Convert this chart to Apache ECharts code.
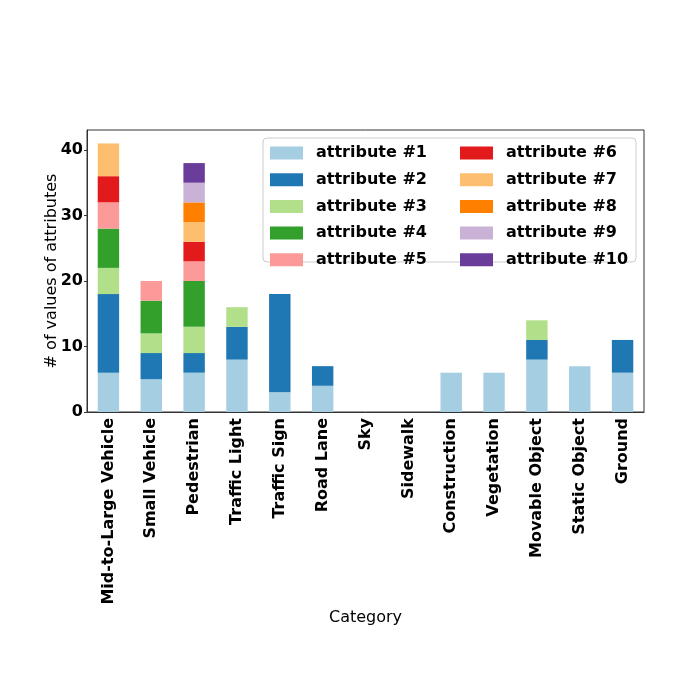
<!DOCTYPE html>
<html>
<head>
<meta charset="utf-8">
<script src="https://cdn.jsdelivr.net/npm/echarts@6/dist/echarts.min.js"></script>
<style>html,body{margin:0;padding:0;background:#fff}#main{width:700px;height:700px}</style>
</head>
<body>
<div id="main"></div>
<script>
var categories = ['Mid-to-Large Vehicle', 'Small Vehicle', 'Pedestrian', 'Traffic Light', 'Traffic Sign',
  'Road Lane', 'Sky', 'Sidewalk', 'Construction', 'Vegetation', 'Movable Object', 'Static Object', 'Ground'];

var attr1  = [6, 5, 6, 8, 3, 4, 0, 0, 6, 6, 8, 7, 6];
var attr2  = [12, 4, 3, 5, 15, 3, 0, 0, 0, 0, 3, 0, 5];
var attr3  = [4, 3, 4, 3, 0, 0, 0, 0, 0, 0, 3, 0, 0];
var attr4  = [6, 5, 7, 0, 0, 0, 0, 0, 0, 0, 0, 0, 0];
var attr5  = [4, 3, 3, 0, 0, 0, 0, 0, 0, 0, 0, 0, 0];
var attr6  = [4, 0, 3, 0, 0, 0, 0, 0, 0, 0, 0, 0, 0];
var attr7  = [5, 0, 3, 0, 0, 0, 0, 0, 0, 0, 0, 0, 0];
var attr8  = [0, 0, 3, 0, 0, 0, 0, 0, 0, 0, 0, 0, 0];
var attr9  = [0, 0, 3, 0, 0, 0, 0, 0, 0, 0, 0, 0, 0];
var attr10 = [0, 0, 3, 0, 0, 0, 0, 0, 0, 0, 0, 0, 0];

var seriesNames = ['attribute #1', 'attribute #2', 'attribute #3', 'attribute #4', 'attribute #5',
  'attribute #6', 'attribute #7', 'attribute #8', 'attribute #9', 'attribute #10'];
var seriesData = [attr1, attr2, attr3, attr4, attr5, attr6, attr7, attr8, attr9, attr10];
var colors = ['#a6cee3', '#1f78b4', '#b2df8a', '#33a02c', '#fb9a99',
  '#e31a1c', '#fdbf6f', '#ff7f00', '#cab2d6', '#6a3d9a'];

var font = 'DejaVu Sans';
var chart = echarts.init(document.getElementById('main'));

var series = [];
for (var i = 0; i < seriesNames.length; i++) {
  series.push({
    name: seriesNames[i],
    type: 'bar',
    stack: 'all',
    barWidth: '50%',
    itemStyle: { color: colors[i] },
    data: seriesData[i].map(function (v) { return v === 0 ? '-' : v; })
  });
}

function legendFor(names, left) {
  return {
    left: left, top: 145,
    orient: 'vertical',
    itemWidth: 33, itemHeight: 13,
    itemGap: 10.7,
    icon: 'rect',
    padding: 0,
    z: 10,
    textStyle: { fontFamily: font, fontWeight: 'bold', fontSize: 16, color: '#000', padding: [0, 0, 0, 8] },
    data: names
  };
}

var option = {
  animation: false,
  color: colors,
  textStyle: { fontFamily: font },
  grid: { left: 87, right: 56, top: 130, bottom: 288, show: true, borderColor: '#333', borderWidth: 1 },
  graphic: [{
    type: 'rect',
    shape: { x: 263, y: 138, width: 373, height: 124, r: 4 },
    style: { fill: 'rgba(255,255,255,0.8)', stroke: '#ccc', lineWidth: 1 },
    z: 5
  }],
  legend: [
    legendFor(seriesNames.slice(0, 5), 270),
    legendFor(seriesNames.slice(5), 460)
  ],
  xAxis: {
    type: 'category',
    data: categories,
    name: 'Category',
    nameLocation: 'middle',
    nameGap: 198,
    nameTextStyle: { fontFamily: font, fontSize: 16, color: '#000' },
    axisLine: { lineStyle: { color: '#333' } },
    axisTick: { alignWithLabel: true, length: 3, lineStyle: { color: '#333' } },
    axisLabel: { rotate: 90, margin: 6, interval: 0, fontFamily: font, fontWeight: 'bold', fontSize: 16, color: '#000' }
  },
  yAxis: {
    type: 'value',
    min: 0, max: 43.05, interval: 10,
    name: '# of values of attributes',
    nameLocation: 'middle',
    nameGap: 27,
    nameMoveOverlap: false,
    nameTextStyle: { fontFamily: font, fontSize: 16, color: '#000' },
    splitLine: { show: false },
    axisLine: { show: true, lineStyle: { color: '#333' } },
    axisTick: { show: true, length: 3, lineStyle: { color: '#333' } },
    axisLabel: { fontFamily: font, fontWeight: 'bold', fontSize: 16, color: '#000', margin: 4,
      showMaxLabel: false }
  },
  series: series
};
chart.setOption(option);
</script>
</body>
</html>
